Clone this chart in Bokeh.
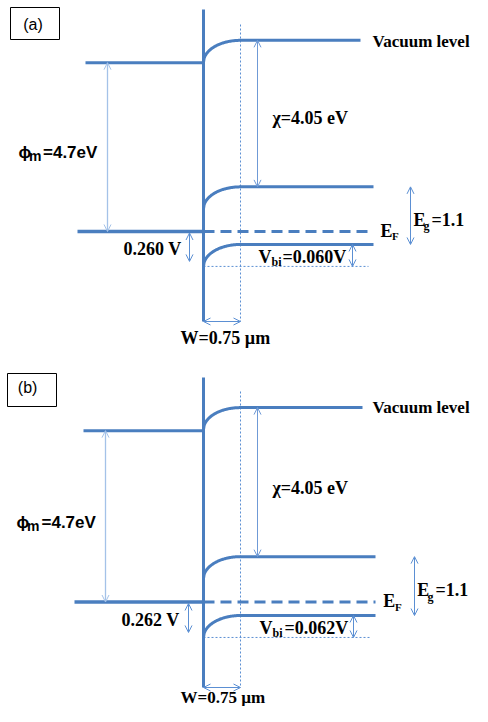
import numpy as np
from bokeh.plotting import figure
from bokeh.models import Range1d, Arrow, OpenHead
from bokeh.layouts import column
from bokeh.embed import file_html
from bokeh.resources import INLINE
from bokeh.core.properties import value

# ---------------- data ----------------
panel_names = ["(a)", "(b)"]
phi_m_ev = [4.7, 4.7]          # metal work function (label)
chi_ev = [4.05, 4.05]          # electron affinity (label)
eg_ev = [1.1, 1.1]             # band gap (label)
barrier_v = [0.260, 0.262]     # barrier label
vbi_v = [0.060, 0.062]         # built-in voltage label
w_um = [0.75, 0.75]            # depletion width, um
# drawn level heights (eV above the metal Fermi level)
metal_vac_drawn = [4.69, 4.76]
semi_vac_drawn = [5.31, 5.40]
cb_drawn = [1.24, 1.26]
vb_drawn = [-0.36, -0.375]
bend_drawn = [0.61, 0.61]

# ---------------- layout ----------------
KX = 37 / 0.75      # px per um
KY = 36.0           # px per eV
X0 = 203.0          # image x of the interface
EF_IMG = [231.0, 601.5]
EXT = [(0, 369), (369, 706)]
FIG_W = 472
BASE_SHIFT = 0.3    # text baseline correction, fraction of font size

MAIN = "#4a7ebf"
LIGHT = "#a4c2e8"
MID = "#5b8fd3"
CHI_C = "#6f9ad6"

L = [
    dict(box=(10, 59, 7, 39), boxtxt=(22.7, 28.4), top=9, bot=321, dtop=24,
         mvs=85, mefs=77, sve=360, be=373, dhe=368,
         phix=107, chix=257, vbix=352, egx=410, barx=189,
         vac=(372, 46), chil=(272, 123), phil=(18, 28.5, 42.5, 157, 159.5),
         barl=(123, 254.3), vbil=(258, 271, 282, 262, 264.8),
         efl=(380, 391.5, 236, 238.5), egl=(413, 423, 431, 225, 229.5),
         wl=(180, 342.8, 18)),
    dict(box=(7, 56, 373, 406), boxtxt=(17.3, 391.8), top=377, bot=687, dtop=391,
         mvs=83, mefs=74, sve=362, be=375, dhe=370,
         phix=105, chix=257, vbix=353, egx=414, barx=188,
         vac=(372, 412.5), chil=(272, 493), phil=(16, 26.5, 41, 526.7, 529.5),
         barl=(121, 625), vbil=(259, 272, 284, 633.3, 636),
         efl=(382.7, 394.5, 606, 609.3), egl=(416.7, 427, 435, 595, 600),
         wl=(180, 702, 17)),
]


def X(px):
    return (px - X0) / KX


def make_panel(i):
    lay = L[i]
    def Y(py):
        return (EF_IMG[i] - py) / KY
    top_px, bot_px = EXT[i]
    p = figure(width=FIG_W, height=int(bot_px - top_px),
               x_range=Range1d(X(0), X(FIG_W)), y_range=Range1d(Y(bot_px), Y(top_px)),
               output_backend="svg", toolbar_location=None, min_border=0,
               x_axis_type=None, y_axis_type=None)
    p.grid.visible = False
    p.outline_line_color = None
    p.background_fill_color = "white"

    W = w_um[i]
    t = np.linspace(0, 1, 60)
    shape = 1 - np.sqrt(1 - (1 - t) ** 2)

    def band(level, end_px, **kw):
        xs = list(W * t) + [X(end_px)]
        ys = list(level - bend_drawn[i] * shape) + [level]
        p.line(xs, ys, line_color=MAIN, line_width=3, **kw)

    # dotted guides
    p.line([W, W], [Y(lay["dtop"]), Y(lay["bot"])], line_color=MID, line_width=1, line_dash="2 2")
    vb_edge = vb_drawn[i] - bend_drawn[i]
    p.line([0, X(lay["dhe"])], [vb_edge, vb_edge], line_color=MID, line_width=1, line_dash="2 2")

    # metal levels
    p.line([X(lay["mvs"]), 0], [metal_vac_drawn[i]] * 2, line_color=MAIN, line_width=3)
    p.line([X(lay["mefs"]), 0], [0, 0], line_color=MAIN, line_width=3.3)
    # semiconductor bands
    band(semi_vac_drawn[i], lay["sve"])
    band(cb_drawn[i], lay["be"])
    band(vb_drawn[i], lay["be"])
    p.line([0, X(lay["be"])], [0, 0], line_color=MAIN, line_width=3, line_dash="11 6")
    # interface
    p.line([0, 0], [Y(lay["top"]), Y(lay["bot"])], line_color=MAIN, line_width=3)

    def arrow(x0, y0, x1, y1, c, lw=1.0):
        p.add_layout(Arrow(start=OpenHead(size=7, line_color=c, line_width=1),
                           end=OpenHead(size=7, line_color=c, line_width=1),
                           x_start=x0, y_start=y0, x_end=x1, y_end=y1,
                           line_color=c, line_width=lw))

    arrow(X(lay["phix"]), metal_vac_drawn[i], X(lay["phix"]), 0, LIGHT, 1.3)
    arrow(X(lay["chix"]), semi_vac_drawn[i], X(lay["chix"]), cb_drawn[i], CHI_C)
    arrow(X(lay["egx"]), cb_drawn[i], X(lay["egx"]), vb_drawn[i], MID)
    arrow(X(lay["vbix"]), vb_drawn[i], X(lay["vbix"]), vb_edge, MID)
    arrow(X(lay["barx"]), -1.5 / KY, X(lay["barx"]), vb_edge + 5 / KY, MID)
    arrow(0, Y(lay["bot"]), W, Y(lay["bot"]), MID)

    # label box
    bl, br, bt, bb = lay["box"]
    p.quad(left=[X(bl)], right=[X(br)], top=[Y(bt)], bottom=[Y(bb)],
           fill_color="white", line_color="black", line_width=1)

    def txt(s, xpx, ypx, size, font="Liberation Serif", style="bold"):
        p.text(x=[X(xpx)], y=[Y(ypx - BASE_SHIFT * size)], text=[s], text_font=value(font),
               text_font_size=value(f"{size}px"), text_font_style=style,
               text_baseline="alphabetic", text_align="left", text_color="black")

    txt(panel_names[i], lay["boxtxt"][0], lay["boxtxt"][1], 16, "Liberation Sans", "normal")
    txt("Vacuum level", lay["vac"][0], lay["vac"][1], 17)
    txt(f"χ={chi_ev[i]:.2f} eV", lay["chil"][0], lay["chil"][1], 18)
    px1, px2, px3, pb1, pb2 = lay["phil"]
    txt("ϕ", px1, pb1, 17, "Liberation Sans")
    txt("m", px2, pb2, 14, "Liberation Sans")
    txt(f"={phi_m_ev[i]:g}eV", px3, pb1, 17, "Liberation Sans")
    txt(f"{barrier_v[i]:.3f} V", lay["barl"][0], lay["barl"][1], 18)
    vx1, vx2, vx3, vb1, vb2 = lay["vbil"]
    txt("V", vx1, vb1, 18)
    txt("bi", vx2, vb2, 12)
    txt(f"={vbi_v[i]:.3f}V", vx3, vb1, 18)
    ex1, ex2, eb1, eb2 = lay["efl"]
    txt("E", ex1, eb1, 18)
    txt("F", ex2, eb2, 11)
    gx1, gx2, gx3, gb1, gb2 = lay["egl"]
    txt("E", gx1, gb1, 18)
    txt("g", gx2, gb2, 12)
    txt(f"={eg_ev[i]:g}", gx3, gb1, 18)
    txt(f"W={w_um[i]:.2f} µm", lay["wl"][0], lay["wl"][1], lay["wl"][2])
    return p


layout = column(make_panel(0), make_panel(1), spacing=0)
open("out.html", "w").write(file_html(layout, INLINE))
